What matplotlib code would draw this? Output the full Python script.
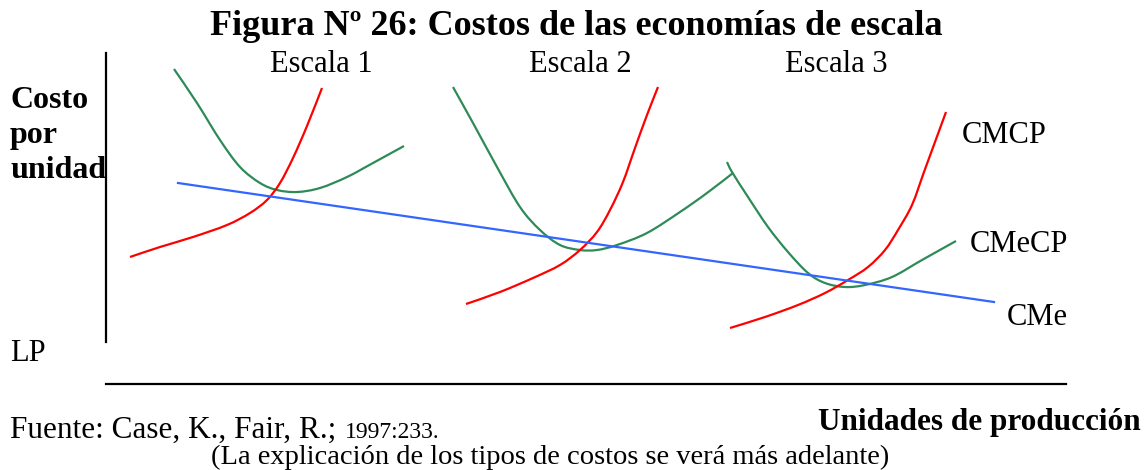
import matplotlib
matplotlib.use("Agg")
import matplotlib.pyplot as plt
from matplotlib.path import Path
from matplotlib.patches import PathPatch

plt.rcParams['font.family'] = ['Liberation Serif', 'DejaVu Serif']

# ---- data (pixel-like units: x right, y down) ----
# Escala 1
cmecp1_x = [174, 197, 220, 240, 260, 277, 297, 320, 347, 373, 404]
cmecp1_y = [69, 103, 140, 167, 183, 190, 192, 188, 177, 163, 146]
cmcp1_x = [130, 160, 193, 227, 250, 267, 280, 293, 307, 322]
cmcp1_y = [257, 247, 237, 225, 213, 200, 183, 158, 126, 88]
# Escala 2
cmecp2_x = [453, 473, 497, 520, 540, 560, 580, 597, 617, 647, 680, 707, 733]
cmecp2_y = [87, 123, 167, 207, 230, 245, 250, 250, 245, 233, 212, 193, 173]
cmcp2_x = [466, 500, 533, 560, 580, 597, 610, 623, 635, 647, 658]
cmcp2_y = [304, 292, 278, 265, 250, 232, 210, 182, 148, 115, 87]
# Escala 3
cmecp3_x = [727, 732, 748, 768, 788, 808, 825, 845, 865, 892, 922, 956]
cmecp3_y = [162, 172, 197, 227, 252, 273, 283, 287, 285, 277, 260, 241]
cmcp3_x = [730, 765, 798, 825, 848, 868, 885, 898, 912, 924, 935, 946]
cmcp3_y = [328, 317, 305, 293, 280, 267, 250, 230, 205, 172, 142, 112]
# Costo medio de largo plazo
cme_x = [178, 994]
cme_y = [183, 302]

scale_labels = ["Escala 1", "Escala 2", "Escala 3"]
scale_label_x = [321, 580, 836]

GREEN = "#2E8B57"
RED = "#FF0000"
BLUE = "#3366FF"


def smooth_path(xs, ys):
    """Smooth drawing through the given points (Catmull-Rom as cubic Bezier)."""
    pts = list(zip(xs, ys))
    verts = [pts[0]]
    codes = [Path.MOVETO]
    n = len(pts)
    for i in range(n - 1):
        p0 = pts[i - 1] if i > 0 else pts[i]
        p1 = pts[i]
        p2 = pts[i + 1]
        p3 = pts[i + 2] if i + 2 < n else pts[i + 1]
        c1 = (p1[0] + (p2[0] - p0[0]) / 6.0, p1[1] + (p2[1] - p0[1]) / 6.0)
        c2 = (p2[0] - (p3[0] - p1[0]) / 6.0, p2[1] - (p3[1] - p1[1]) / 6.0)
        verts += [c1, c2, p2]
        codes += [Path.CURVE4] * 3
    return Path(verts, codes)


fig = plt.figure(figsize=(11.45, 4.70), dpi=100)
ax = fig.add_axes([0, 0, 1, 1])
ax.set_xlim(0, 1145)
ax.set_ylim(470, 0)
ax.axis('off')

lw = 1.6
ax.plot(cme_x, cme_y, color=BLUE, lw=lw)
for xs, ys in [(cmecp1_x, cmecp1_y), (cmecp2_x, cmecp2_y), (cmecp3_x, cmecp3_y)]:
    ax.add_patch(PathPatch(smooth_path(xs, ys), facecolor='none', edgecolor=GREEN, lw=lw))
for xs, ys in [(cmcp1_x, cmcp1_y), (cmcp2_x, cmcp2_y), (cmcp3_x, cmcp3_y)]:
    ax.add_patch(PathPatch(smooth_path(xs, ys), facecolor='none', edgecolor=RED, lw=lw))

# axis lines
ax.plot([106, 106], [53, 342], color='black', lw=1.6)
ax.plot([106, 1066], [384, 384], color='black', lw=1.6)

# texts
ax.text(576, 35, "Figura Nº 26: Costos de las economías de escala", ha='center',
        va='baseline', fontsize=26, fontweight='bold')
for lab, x in zip(scale_labels, scale_label_x):
    ax.text(x, 72, lab, ha='center', va='baseline', fontsize=22)

for lab, y in zip(["Costo", "por", "unidad"], [108, 143, 178]):
    ax.text(10, y, lab, ha='left', va='baseline', fontsize=23, fontweight='bold')
ax.text(10, 361, "LP", ha='left', va='baseline', fontsize=22)

ax.text(962, 143, "CMCP", ha='left', va='baseline', fontsize=22)
ax.text(970, 252, "CMeCP", ha='left', va='baseline', fontsize=22)
ax.text(1007, 325, "CMe", ha='left', va='baseline', fontsize=22)

ax.text(1141, 430, "Unidades de producción", ha='right', va='baseline',
        fontsize=22.5, fontweight='bold')
ax.text(10, 438, "Fuente: Case, K., Fair, R.;", ha='left', va='baseline', fontsize=22.5)
ax.text(345, 438, "1997:233.", ha='left', va='baseline', fontsize=17)
ax.text(550, 464, "(La explicación de los tipos de costos se verá más adelante)",
        ha='center', va='baseline', fontsize=20.5)

fig.savefig("out.png", dpi=100)
